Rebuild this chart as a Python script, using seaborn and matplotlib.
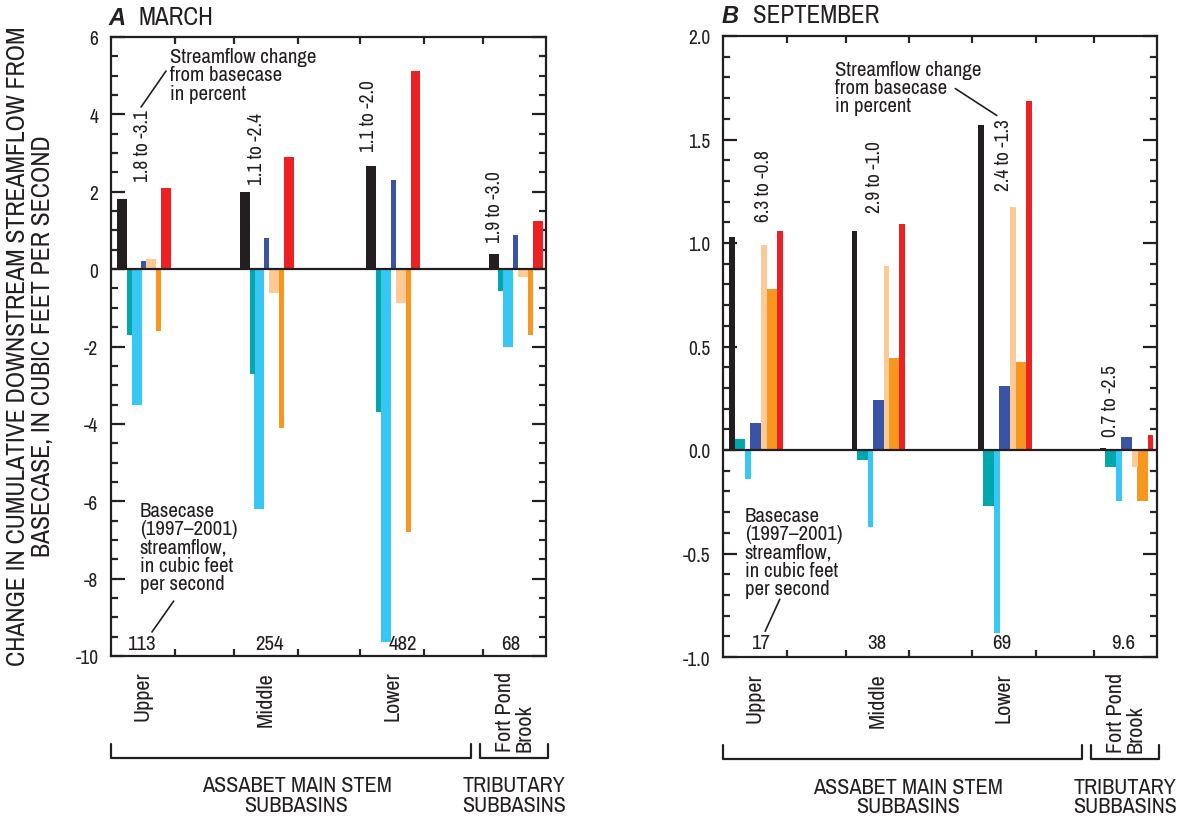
import numpy as np
import pandas as pd
import matplotlib
matplotlib.use('Agg')
import matplotlib.pyplot as plt
import matplotlib.transforms as mtransforms
from matplotlib import font_manager
from matplotlib.ticker import MultipleLocator, FormatStrFormatter
import seaborn as sns

# subbasins and the seven bars drawn in every subbasin (left to right)
groups = ['Upper', 'Middle', 'Lower', 'Fort Pond\nBrook']
series = ['s1', 's2', 's3', 's4', 's5', 's6', 's7']
colors = ['#231f20', '#00a8ad', '#38c6f4', '#3a53a4', '#fdca95', '#f7971f', '#ed2024']

# March change in streamflow, ft3/s
march_upper = [1.8, -1.7, -3.5, 0.2, 0.25, -1.6, 2.1]
march_middle = [2.0, -2.7, -6.2, 0.8, -0.63, -4.1, 2.9]
march_lower = [2.67, -3.7, -9.65, 2.3, -0.87, -6.8, 5.13]
march_fortpond = [0.4, -0.57, -2.0, 0.87, -0.21, -1.7, 1.25]
march_pct = ['1.8 to -3.1', '1.1 to -2.4', '1.1 to -2.0', '1.9 to -3.0']
march_base = ['113', '254', '482', '68']

# September change in streamflow, ft3/s
sept_upper = [1.03, 0.053, -0.14, 0.13, 0.99, 0.78, 1.06]
sept_middle = [1.06, -0.05, -0.37, 0.24, 0.89, 0.445, 1.09]
sept_lower = [1.57, -0.27, -0.885, 0.31, 1.175, 0.425, 1.685]
sept_fortpond = [0.01, -0.08, -0.245, 0.065, -0.08, -0.245, 0.073]
sept_pct = ['6.3 to -0.8', '2.9 to -1.0', '2.4 to -1.3', '0.7 to -2.5']
sept_base = ['17', '38', '69', '9.6']

sns.set_style('ticks')

# look for a narrow sans face; fall back to Liberation Sans, a bit smaller
fam, k = None, 1.0
for f in font_manager.fontManager.ttflist:
    if (('Narrow' in f.name or 'Condensed' in f.name)
            and 'Mono' not in f.name and 'Serif' not in f.name):
        fam = f.name
        break
if fam is None:
    for f in font_manager.fontManager.ttflist:
        if f.name == 'DejaVu Sans' and f.stretch == 'condensed':
            fam = 'DejaVu Sans'
            plt.rcParams['font.stretch'] = 'condensed'
            k = 0.95
            break
if fam is None:
    fam, k = 'Liberation Sans', 0.9
plt.rcParams['font.family'] = [fam, 'DejaVu Sans']
plt.rcParams['axes.unicode_minus'] = False
INK = '#231f20'
FS = 15.0 * k      # annotations
FR = 14.0 * k      # rotated percent ranges
FT = 14.0 * k      # tick labels
FC = 16.0 * k      # category / bracket labels

slot_start = [0.0, 1.92, 3.9, 5.81]
slot_edges = [1.0, 1.92, 2.92, 3.9, 4.9, 5.81]


def draw_bars(ax, values, wide_first, offset, step, wide, narrow):
    rows = []
    for gi, vals in enumerate(values):
        for si, v in enumerate(vals):
            rows.append({'x': slot_start[gi] + offset + si * step, 'value': v,
                         'series': series[si],
                         'wide': (si % 2 == 0) == wide_first})
    df = pd.DataFrame(rows)
    pal = dict(zip(series, colors))
    for is_wide, w in [(True, wide), (False, narrow)]:
        sub = df[df['wide'] == is_wide]
        order = [s for s in series if s in set(sub['series'])]
        sns.barplot(data=sub, x='x', y='value', hue='series', hue_order=order,
                    palette=pal, native_scale=True, width=w / (2 * step),
                    dodge=False, errorbar=None, linewidth=0, saturation=1,
                    legend=False, ax=ax)


def style_axes(ax, ymin, ymax, major, minor, fmt):
    ax.set_xlim(0, 6.8)
    ax.set_ylim(ymin, ymax)
    ax.axhline(0, color=INK, lw=1.6, zorder=5)
    for sp in ax.spines.values():
        sp.set_visible(True)
        sp.set_linewidth(1.6)
        sp.set_color(INK)
    ax.yaxis.set_major_locator(MultipleLocator(major))
    ax.yaxis.set_minor_locator(MultipleLocator(minor))
    ax.yaxis.set_major_formatter(FormatStrFormatter(fmt))
    ax.set_xticks(slot_edges)
    ax.set_xticklabels([])
    ax.tick_params(axis='y', which='major', direction='in', length=10, width=1.6,
                   left=True, right=True, labelsize=FT, pad=9, colors=INK)
    ax.tick_params(axis='y', which='minor', direction='in', length=5, width=1.6,
                   left=True, right=True)
    ax.tick_params(axis='x', which='major', direction='in', length=5, width=1.6,
                   top=True, bottom=True)
    ax.set_xlabel('')
    ax.set_ylabel('')
    tr = mtransforms.blended_transform_factory(ax.transData, ax.transAxes)
    for gi, g in enumerate(groups):
        ax.text(slot_start[gi] + 0.5, -0.024, g, rotation=90, ha='center', va='top',
                multialignment='left', fontsize=FC, transform=tr, color=INK,
                linespacing=0.95)
    # brackets under the category names
    for x0, x1 in [(0.0, 5.63), (5.77, 6.83)]:
        ax.plot([x0, x0, x1, x1], [-0.142, -0.165, -0.165, -0.142], color=INK,
                lw=1.6, transform=tr, clip_on=False)
    ax.text(2.9, -0.193, 'ASSABET MAIN STEM\nSUBBASINS', ha='center', va='top',
            fontsize=FC, transform=tr, color=INK, linespacing=0.95)
    ax.text(6.3, -0.193, 'TRIBUTARY\nSUBBASINS', ha='center', va='top',
            fontsize=FC, transform=tr, color=INK, linespacing=0.95)


fig = plt.figure(figsize=(11.85, 8.2), dpi=100)
axA = fig.add_axes([111 / 1185, 1 - 657 / 820, 435 / 1185, 619 / 820])
axB = fig.add_axes([723 / 1185, 1 - 658 / 820, 434 / 1185, 621 / 820])

# ---- A: March
draw_bars(axA, [march_upper, march_middle, march_lower, march_fortpond],
          True, 0.17, 0.115, 0.156, 0.078)
style_axes(axA, -10, 6, 2, 0.5, '%d')
for x, y, s in zip([0.5, 2.27, 4.03, 6.0], [2.27, 2.2, 3.05, 0.7], march_pct):
    axA.text(x, y, s, rotation=90, ha='center', va='bottom', fontsize=FR, color=INK)
for x, s in zip([0.48, 2.47, 4.56, 6.25], march_base):
    axA.text(x, -9.82, s, ha='center', va='baseline', fontsize=FS, color=INK)
axA.text(0.92, 5.74, 'Streamflow change\nfrom basecase\nin percent', ha='left',
         va='top', fontsize=FS, color=INK, linespacing=0.95)
axA.plot([0.47, 0.86], [4.19, 5.12], color=INK, lw=1.2)
axA.text(0.45, -6.0, 'Basecase\n(1997\u20132001)\nstreamflow,\nin cubic feet\nper second',
         ha='left', va='top', fontsize=FS, color=INK, linespacing=0.95)
axA.plot([0.98, 0.64], [-8.58, -9.38], color=INK, lw=1.2)

# ---- B: September
draw_bars(axB, [sept_upper, sept_middle, sept_lower, sept_fortpond],
          False, 0.14, 0.125, 0.172, 0.09)
style_axes(axB, -1.0, 2.0, 0.5, 0.1, '%.1f')
for x, y, s in zip([0.63, 2.38, 4.4, 6.07], [1.108, 1.15, 1.258, 0.068], sept_pct):
    axB.text(x, y, s, rotation=90, ha='center', va='bottom', fontsize=FR, color=INK)
for x, s in zip([0.58, 2.41, 4.36, 6.27], sept_base):
    axB.text(x, -0.958, s, ha='center', va='baseline', fontsize=FS, color=INK)
axB.text(1.76, 1.885, 'Streamflow change\nfrom basecase\nin percent', ha='left',
         va='top', fontsize=FS, color=INK, linespacing=0.95)
axB.plot([3.64, 4.29], [1.746, 1.616], color=INK, lw=1.2)
axB.text(0.34, -0.27, 'Basecase\n(1997\u20132001)\nstreamflow,\nin cubic feet\nper second',
         ha='left', va='top', fontsize=FS, color=INK, linespacing=0.95)
axB.plot([0.89, 0.66], [-0.721, -0.876], color=INK, lw=1.2)

# panel titles
for px, py, letter, word in [(108, 25, 'A', 'MARCH'), (722, 23, 'B', 'SEPTEMBER')]:
    fig.text(px / 1185, 1 - py / 820, letter, fontsize=17, fontweight='bold',
             fontstyle='italic', family=['Liberation Sans', 'DejaVu Sans'],
             va='baseline', color=INK)
    fig.text((px + 31) / 1185, 1 - py / 820, word, fontsize=18 * k, va='baseline',
             color=INK)

fig.text(30 / 1185, 1 - 346 / 820,
         'CHANGE IN CUMULATIVE DOWNSTREAM STREAMFLOW FROM\nBASECASE, IN CUBIC FEET PER SECOND',
         rotation=90, ha='center', va='center', fontsize=18.5 * k, color=INK, linespacing=1.1)

fig.savefig('out.png', dpi=100)
